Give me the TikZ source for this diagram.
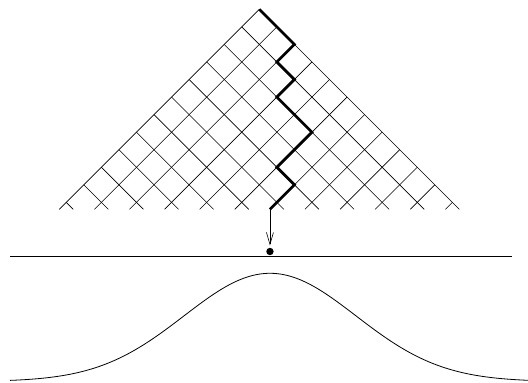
\documentclass[tikz,border=0pt]{standalone}
\usetikzlibrary{arrows.meta}
\begin{document}
\begin{tikzpicture}[x=1pt,y=-1pt,
  grid/.style={line width=0.6pt},
  walk/.style={line width=2.7pt, line join=miter},
  axisline/.style={line width=0.8pt},
  bell/.style={line width=0.8pt},
  fall/.style={line width=0.6pt, -{Straight Barb[length=12pt,width=7pt]}, shorten >=6pt},
  ball/.style={circle, fill=black, inner sep=0pt, minimum size=7.4pt}]
\useasboundingbox (0,0) rectangle (528,383);
\def\s{17.55}
\coordinate (apex) at (259.3,9.3);
\foreach \k in {0,...,11}{
  \draw[grid] ({259.3-\s*\k},{9.3+\s*\k}) -- ({459.3-2*\s*\k},209.3);
  \draw[grid] ({259.3+\s*\k},{9.3+\s*\k}) -- ({59.3+2*\s*\k},209.3);
}
\draw[walk] (apex) -- ++({2*\s},{2*\s}) -- ++({-\s},{\s}) -- ++({\s},{\s})
  -- ++({-\s},{\s}) -- ++({2*\s},{2*\s}) -- ++({-2*\s},{2*\s})
  -- ++({\s},{\s}) -- ++({-\s},{\s}) -- ++(-6.9,6.9) coordinate (pend);
\path (pend |- 0,251.5) node[ball] (dot) {};
\draw[fall] (pend) -- (dot.center);
\coordinate (axL) at (10,256);
\coordinate (axR) at (512,256);
\draw[axisline] (axL) -- (axR);
\draw[bell] plot[domain=10:528, samples=150] (\x, {381.5-108.2*exp(-0.5*((\x-270)/86)^2)});
\end{tikzpicture}
\end{document}
